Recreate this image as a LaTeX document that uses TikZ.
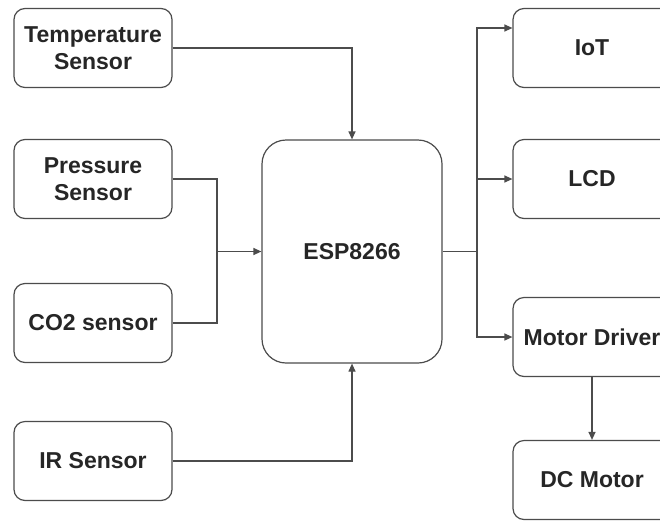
\documentclass[tikz,border=0pt]{standalone}
\usepackage{fontspec}
\setmainfont{Liberation Sans}
\usetikzlibrary{arrows.meta,positioning,calc}

\begin{document}
\begin{tikzpicture}[x=1pt, y=-1pt,
    blk/.style={draw=black!70, line width=1.2pt, rounded corners=11pt, minimum width=158pt, minimum height=79pt, align=center, inner sep=2pt, font=\fontsize{23}{26.5}\selectfont\bfseries, text=black!85},
    mcu/.style={blk, rounded corners=24pt, minimum width=180pt, minimum height=223pt},
    arr/.style={-{Triangle[length=8pt,width=7pt]}, line width=1.2pt, draw=black!70},
    wire/.style={line width=1.2pt, draw=black!70}
]
\useasboundingbox (0,0) rectangle (660,520);
\clip (0,0) rectangle (660,520);
\fill[white] (0,0) rectangle (660,520);

% sensors
\node[blk] (temp)  at (93,48)  {Temperature\\Sensor};
\node[blk] (press) at (93,179) {Pressure\\Sensor};
\node[blk] (co2)   at (93,323) {CO2 sensor};
\node[blk] (ir)    at (93,461) {IR Sensor};

% controller
\node[mcu] (esp) at (352,251.5) {ESP8266};

% outputs
\node[blk] (iot) at (592,48)  {IoT};
\node[blk] (lcd) at (592,179) {LCD};
\node[blk] (drv) at (592,337) {Motor Driver};
\node[blk] (dcm) at (592,480) {DC Motor};

\coordinate (join)  at (217,251.5);
\coordinate (split) at (477,251.5);
\coordinate (top)   at (477,28);

\draw[arr] (temp.east) -| (esp.north);
\draw[wire] (press.east) -| (join) |- (co2.east);
\draw[arr] (join) -- (esp.west);
\draw[arr] (ir.east) -| (esp.south);

\draw[wire] (esp.east) -- (split);
\draw[arr] (split) |- (top) -- (top -| iot.west);
\draw[arr] (split) |- (lcd.west);
\draw[arr] (split) |- (drv.west);
\draw[arr] (drv.south) -- (dcm.north);
\end{tikzpicture}
\end{document}
